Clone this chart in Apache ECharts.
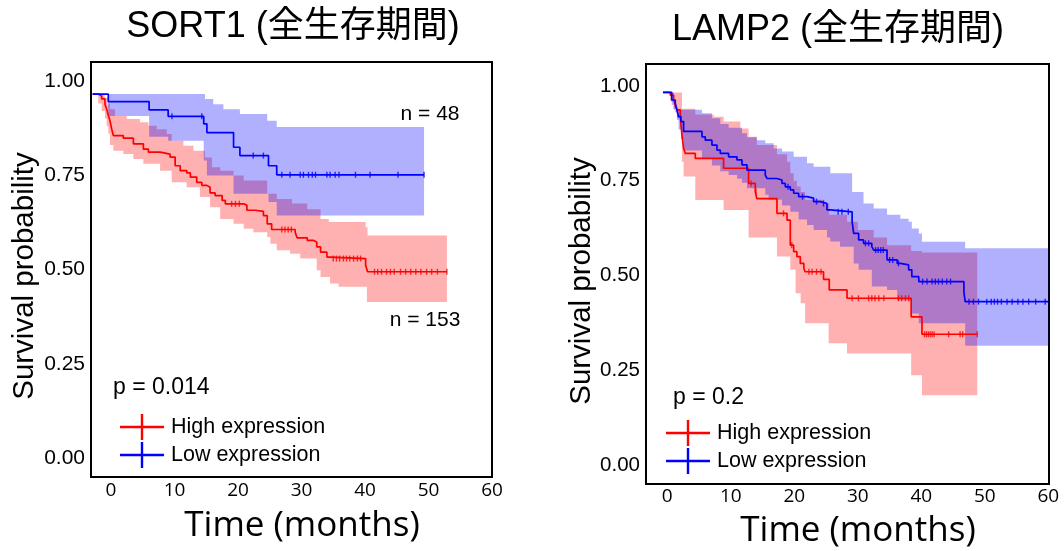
<!DOCTYPE html>
<html>
<head>
<meta charset="utf-8">
<script src="https://cdn.jsdelivr.net/npm/echarts@6/dist/echarts.min.js"></script>
<style>
html,body{margin:0;padding:0;background:#fff;}
#chart{width:1064px;height:551px;}
</style>
</head>
<body>
<div id="chart"></div>
<script>
// ---------- DATA (time in months, survival probability) ----------
const panelTitles = ['SORT1 (全生存期間)', 'LAMP2 (全生存期間)'];
const seriesNames = ['High expression', 'Low expression'];
const yTickValues = [0, 0.25, 0.5, 0.75, 1];
const xTickValues = [0, 10, 20, 30, 40, 50, 60];
const pValues = ['p = 0.014', 'p = 0.2'];
const sort1Counts = ['n = 48', 'n = 153'];

// SORT1 – High expression (red)
const sort1HighLine = [[-2.9,0.965],[-2.0,0.960],[-1.47,0.952],[-0.95,0.938],[-0.68,0.925],[-0.42,0.908],[-0.16,0.894],[0.11,0.872],[0.37,0.855],[1.94,0.848],[3.52,0.833],[5.1,0.819],[5.89,0.811],[7.73,0.806],[9.3,0.798],[10.1,0.775],[10.9,0.762],[11.94,0.756],[12.5,0.745],[13.5,0.731],[14.3,0.723],[15.1,0.718],[15.6,0.703],[16.4,0.696],[17.5,0.683],[18.0,0.674],[20.9,0.670],[21.4,0.657],[22.7,0.654],[24.0,0.643],[24.6,0.621],[25.3,0.606],[29.0,0.599],[29.3,0.584],[30.9,0.577],[31.9,0.573],[32.4,0.560],[33.0,0.546],[34.0,0.533],[34.5,0.529],[40.1,0.511],[40.4,0.494],[52.9,0.494]];
const sort1HighUpper = [[-2.9,0.965],[-1.0,0.955],[-0.42,0.94],[-0.16,0.925],[0.63,0.907],[2.47,0.899],[4.57,0.890],[5.89,0.881],[7.2,0.872],[8.78,0.859],[9.57,0.841],[11.4,0.828],[12.98,0.815],[14.8,0.797],[15.9,0.771],[17.2,0.762],[19.3,0.749],[20.9,0.736],[24.6,0.701],[26.1,0.687],[28.5,0.675],[30.9,0.660],[33.0,0.634],[34.3,0.626],[40.1,0.612],[40.4,0.590],[52.9,0.590]];
const sort1HighLower = [[-2.9,0.965],[-2.0,0.94],[-1.47,0.92],[-0.95,0.90],[-0.68,0.88],[-0.42,0.86],[-0.16,0.83],[0.37,0.815],[1.94,0.806],[3.52,0.793],[5.1,0.780],[7.73,0.762],[9.57,0.731],[11.9,0.718],[14.0,0.692],[15.6,0.665],[17.2,0.634],[19.3,0.621],[20.9,0.608],[22.4,0.599],[24.6,0.586],[25.1,0.568],[26.1,0.551],[28.2,0.542],[29.8,0.529],[32.4,0.498],[33.0,0.480],[34.5,0.463],[35.85,0.454],[40.3,0.414],[52.9,0.414]];
const sort1HighCensor = [19.0,19.6,20.2,26.9,27.4,27.9,28.4,35.0,35.5,36.0,36.6,37.1,37.6,38.2,38.8,39.3,41.5,42.0,42.6,43.4,44.0,44.6,45.6,46.4,47.2,48.0,48.8,49.7,50.5,51.4,52.9];

// SORT1 – Low expression (blue)
const sort1LowLine = [[-2.9,0.965],[-0.43,0.945],[6.0,0.923],[9.0,0.906],[14.6,0.886],[15.1,0.863],[19.3,0.824],[20.3,0.802],[24.8,0.775],[26.1,0.751],[49.3,0.751]];
const sort1LowUpper = [[-2.9,0.965],[14.8,0.952],[16.1,0.938],[17.7,0.925],[20.3,0.912],[24.6,0.894],[26.1,0.878],[49.3,0.878]];
const sort1LowLower = [[-2.9,0.965],[-0.43,0.907],[6.0,0.852],[9.0,0.841],[14.6,0.789],[15.1,0.749],[19.3,0.701],[24.8,0.679],[26.1,0.643],[49.3,0.643]];
const sort1LowCensor = [9.6,14.3,22.4,24.0,26.9,28.2,29.8,30.3,31.1,31.7,32.2,34.0,34.5,35.3,35.9,38.5,40.8,45.2,49.3];

// LAMP2 – High expression (red)
const lamp2HighLine = [[-0.68,0.983],[0.47,0.976],[1.0,0.963],[1.26,0.950],[1.52,0.937],[2.05,0.919],[2.31,0.871],[2.57,0.836],[2.84,0.822],[4.41,0.809],[8.87,0.783],[12.8,0.743],[13.86,0.721],[14.1,0.703],[17.27,0.664],[18.85,0.646],[19.37,0.580],[19.9,0.563],[20.4,0.550],[20.94,0.532],[21.5,0.519],[21.7,0.510],[24.6,0.490],[25.5,0.462],[28.3,0.440],[38.4,0.391],[40.1,0.345],[48.8,0.345]];
const lamp2HighUpper = [[-0.68,0.983],[2.31,0.94],[4.41,0.925],[7.3,0.919],[8.87,0.906],[11.5,0.888],[12.8,0.866],[14.1,0.844],[17.27,0.82],[18.85,0.80],[19.37,0.77],[19.9,0.75],[20.4,0.735],[21.0,0.72],[21.7,0.70],[24.6,0.69],[25.5,0.66],[28.3,0.642],[30.0,0.62],[32.5,0.60],[34.6,0.58],[38.4,0.565],[40.1,0.561],[48.8,0.561]];
const lamp2HighLower = [[-0.68,0.983],[0.47,0.96],[1.0,0.94],[1.52,0.915],[2.05,0.885],[2.31,0.80],[2.57,0.761],[4.41,0.699],[8.87,0.673],[12.8,0.60],[17.27,0.55],[19.37,0.515],[20.2,0.453],[21.0,0.427],[21.7,0.374],[25.4,0.321],[28.3,0.294],[38.4,0.237],[40.1,0.184],[48.8,0.184]];
const lamp2HighCensor = [13.2,13.95,18.3,19.6,22.3,22.8,23.5,24.2,29.1,30.1,31.7,32.2,32.7,33.3,34.1,36.4,36.9,37.5,38.0,40.5,40.8,41.1,41.4,41.7,42.0,44.3,46.1,46.5,48.8];

// LAMP2 – Low expression (blue)
const lamp2LowLine = [[-0.68,0.983],[0.7,0.963],[1.26,0.954],[1.52,0.937],[1.78,0.919],[2.15,0.906],[2.57,0.880],[5.46,0.866],[5.98,0.857],[7.03,0.844],[7.82,0.831],[8.35,0.822],[9.66,0.813],[10.97,0.805],[11.76,0.792],[12.55,0.778],[15.43,0.765],[15.7,0.756],[17.27,0.752],[18.06,0.743],[18.58,0.734],[19.37,0.726],[19.9,0.717],[20.68,0.708],[22.0,0.704],[23.04,0.695],[24.09,0.690],[25.14,0.673],[25.67,0.668],[29.1,0.642],[29.35,0.611],[30.13,0.594],[30.9,0.585],[32.2,0.576],[32.5,0.567],[34.6,0.541],[36.2,0.532],[36.7,0.528],[38.0,0.515],[38.5,0.497],[39.6,0.484],[46.7,0.457],[46.9,0.431],[60.0,0.431]];
const lamp2LowUpper = [[-0.68,0.983],[1.0,0.937],[5.46,0.928],[7.03,0.915],[8.35,0.90],[9.66,0.89],[11.76,0.875],[12.55,0.865],[14.1,0.857],[15.43,0.849],[16.75,0.835],[18.06,0.827],[19.9,0.813],[22.0,0.796],[23.04,0.787],[25.67,0.770],[29.1,0.72],[30.9,0.69],[32.5,0.677],[34.6,0.660],[36.7,0.650],[38.0,0.642],[38.5,0.624],[39.6,0.611],[40.1,0.589],[46.9,0.572],[60.0,0.572]];
const lamp2LowLower = [[-0.68,0.983],[0.7,0.95],[1.26,0.93],[1.52,0.91],[1.78,0.885],[2.15,0.86],[2.57,0.83],[5.46,0.81],[7.03,0.79],[8.35,0.775],[9.66,0.765],[11.0,0.755],[11.76,0.745],[12.55,0.73],[15.43,0.713],[15.96,0.70],[18.06,0.685],[19.37,0.668],[20.68,0.648],[22.0,0.633],[23.04,0.62],[25.14,0.60],[25.67,0.59],[27.2,0.576],[29.35,0.532],[30.13,0.515],[32.2,0.471],[34.6,0.462],[36.2,0.435],[38.5,0.400],[39.6,0.374],[46.9,0.315],[60.0,0.315]];
const lamp2LowCensor = [19.0,21.3,23.5,24.6,26.9,27.5,28.5,31.2,31.7,32.8,33.2,33.6,34.0,35.0,35.5,36.4,40.2,40.9,41.7,42.2,42.7,43.3,44.0,44.6,47.5,48.2,49.0,50.3,51.0,51.5,52.0,52.6,53.5,54.3,55.2,56.0,56.9,58.0,59.5];

// ---------- helpers ----------
const RED = '#FF0000', BLUE = '#0000FF';
const RED_FILL = 'rgba(255,0,0,0.31)', BLUE_FILL = 'rgba(0,0,255,0.31)';
const FONT = "'Liberation Sans', Arial, sans-serif";

function stepAt(line, t) {
  let y = line[0][1];
  for (const p of line) { if (p[0] <= t) y = p[1]; }
  return y;
}
function censorData(line, times) { return times.map(t => [t, stepAt(line, t)]); }
function stepPoints(arr) {
  const out = [];
  for (let i = 0; i < arr.length; i++) {
    if (i > 0) out.push([arr[i][0], arr[i - 1][1]]);
    out.push(arr[i]);
  }
  return out;
}
function bandSeries(name, upper, lower, fill, idx) {
  return {
    type: 'custom', name: name, xAxisIndex: idx, yAxisIndex: idx, silent: true, z: 1,
    data: [[0, 0]],
    renderItem: function (params, api) {
      const up = stepPoints(upper).map(p => api.coord(p));
      const lo = stepPoints(lower).reverse().map(p => api.coord(p));
      return { type: 'polygon', shape: { points: up.concat(lo) }, style: { fill: fill } };
    }
  };
}
function lineSeries(name, data, color, idx) {
  return {
    type: 'line', name: name, xAxisIndex: idx, yAxisIndex: idx, data: data, step: 'end',
    symbol: 'none', lineStyle: { color: color, width: 1.7 }, itemStyle: { color: color }, z: 3, silent: true
  };
}
function censorSeries(name, line, times, color, idx) {
  return {
    type: 'scatter', name: name, xAxisIndex: idx, yAxisIndex: idx, data: censorData(line, times),
    symbol: 'rect', symbolSize: [1.4, 6], itemStyle: { color: color }, z: 4, silent: true
  };
}
function xAxisCfg(idx, min, max) {
  return {
    type: 'value', gridIndex: idx, min: min, max: max,
    axisLine: { show: false }, axisTick: { show: false }, splitLine: { show: false },
    axisLabel: { customValues: xTickValues, color: '#000', fontSize: 19, fontFamily: "'Open Sans', sans-serif", margin: idx === 0 ? 4 : 3 }
  };
}
function yAxisCfg(idx, min, max, fs) {
  return {
    type: 'value', gridIndex: idx, min: min, max: max,
    axisLine: { show: false }, axisTick: { show: false }, splitLine: { show: false },
    axisLabel: { customValues: yTickValues, formatter: v => v.toFixed(2), color: '#000', fontSize: fs, fontFamily: FONT, margin: 6 }
  };
}
const LEGEND_ICON = 'path://M0,11.8h44v2.4h-44zM20.8,0h2.4v26h-2.4z';
function legendCfg(left, top) {
  return {
    left: left, top: top, orient: 'vertical', itemGap: 2, itemWidth: 44, itemHeight: 26,
    icon: LEGEND_ICON, selectedMode: false, data: seriesNames, padding: 0,
    itemStyle: { borderWidth: 0 },
    textStyle: { color: '#000', fontSize: 21.5, fontFamily: FONT, padding: [0, 0, 0, 2] }
  };
}
function txt(x, y, text, size, opts) {
  return Object.assign({
    type: 'text', x: x, y: y, silent: true,
    style: Object.assign({ text: text, fill: '#000', fontSize: size, fontFamily: FONT, align: 'center', verticalAlign: 'middle' }, (opts && opts.style) || {})
  }, (opts && opts.el) || {});
}

const option = {
  animation: false,
  backgroundColor: '#fff',
  grid: [
    { left: 91, top: 62, width: 401, height: 415, show: true, borderColor: '#000', borderWidth: 2, backgroundColor: '#fff' },
    { left: 646, top: 64, width: 403, height: 420, show: true, borderColor: '#000', borderWidth: 2, backgroundColor: '#fff' }
  ],
  xAxis: [xAxisCfg(0, -3.15, 60), xAxisCfg(1, -3.35, 60.1)],
  yAxis: [yAxisCfg(0, -0.05, 1.05, 21), yAxisCfg(1, -0.05, 1.058, 20.5)],
  legend: [legendCfg(120, 414), legendCfg(666, 420)],
  series: [
    bandSeries('sort1HighBand', sort1HighUpper, sort1HighLower, RED_FILL, 0),
    bandSeries('sort1LowBand', sort1LowUpper, sort1LowLower, BLUE_FILL, 0),
    lineSeries(seriesNames[0], sort1HighLine, RED, 0),
    lineSeries(seriesNames[1], sort1LowLine, BLUE, 0),
    censorSeries('sort1HighCensor', sort1HighLine, sort1HighCensor, RED, 0),
    censorSeries('sort1LowCensor', sort1LowLine, sort1LowCensor, BLUE, 0),
    bandSeries('lamp2HighBand', lamp2HighUpper, lamp2HighLower, RED_FILL, 1),
    bandSeries('lamp2LowBand', lamp2LowUpper, lamp2LowLower, BLUE_FILL, 1),
    lineSeries(seriesNames[0], lamp2HighLine, RED, 1),
    lineSeries(seriesNames[1], lamp2LowLine, BLUE, 1),
    censorSeries('lamp2HighCensor', lamp2HighLine, lamp2HighCensor, RED, 1),
    censorSeries('lamp2LowCensor', lamp2LowLine, lamp2LowCensor, BLUE, 1)
  ],
  graphic: [
    txt(293, 27, panelTitles[0], 36, { style: { fontFamily: "'Liberation Sans', 'Noto Sans CJK JP', sans-serif" } }),
    txt(838, 30, panelTitles[1], 36, { style: { fontFamily: "'Liberation Sans', 'Noto Sans CJK JP', sans-serif" } }),
    txt(25, 276, 'Survival probability', 29.5, { el: { rotation: Math.PI / 2 } }),
    txt(582, 281, 'Survival probability', 29.5, { el: { rotation: Math.PI / 2 } }),
    txt(302, 526, 'Time (months)', 35, { style: { fontFamily: "'Open Sans', sans-serif" } }),
    txt(858, 531, 'Time (months)', 35, { style: { fontFamily: "'Open Sans', sans-serif" } }),
    txt(430, 114, sort1Counts[0], 21),
    txt(425, 320, sort1Counts[1], 21),
    txt(113, 388, pValues[0], 23, { style: { align: 'left' } }),
    txt(673, 398, pValues[1], 23, { style: { align: 'left' } })
  ]
};

const chart = echarts.init(document.getElementById('chart'), null, { renderer: 'canvas' });
chart.setOption(option);
</script>
</body>
</html>
